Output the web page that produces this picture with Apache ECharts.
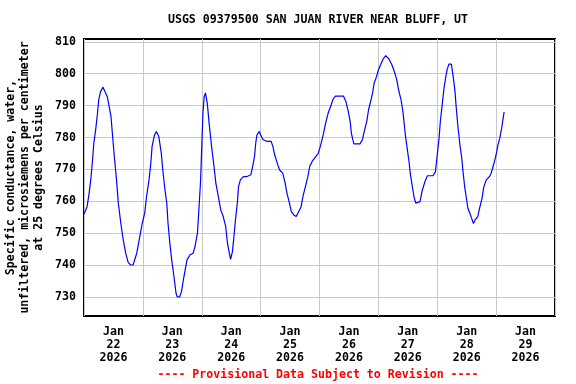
<!DOCTYPE html>
<html>
<head>
<meta charset="utf-8">
<script src="https://cdn.jsdelivr.net/npm/echarts@6/dist/echarts.min.js"></script>
<style>html,body{margin:0;padding:0;background:#fff}#c{width:576px;height:384px}</style>
</head>
<body>
<div id="c"></div>
<script>
// hours since 2026-01-22 00:00 (local station time)
const hours = [0,1.25,2,2.75,3.5,4,4.75,5.5,6,6.75,7.75,8.5,9.5,11,12.25,13.25,14,15,16,17,18,19,20,21.5,22.5,23.75,
24.75,25.5,26.5,27.25,27.75,28.75,29.5,30.5,31.5,32.25,33,33.75,34.25,35,35.75,36.5,37,37.5,38,39,39.75,40.5,41.25,42,43.25,44.5,45.25,46.25,46.75,47.5,
48,48.5,49,49.5,50.25,51,52,53,53.75,54.75,55.75,56.75,57.75,58.5,59.25,59.75,60.5,61,61.75,62.5,63,63.75,65,66.25,68,68.75,69.5,70,70.5,71.5,
72,73,74.5,76.25,77,77.75,79,79.75,81,82,82.75,83.75,84.5,85.5,86.5,87.25,88.5,89.25,90.25,91.25,92,93,94,95.5,
96.5,97.5,98.5,99.5,100.75,101.5,102.5,105.75,106.75,107.75,108.5,109,110,112.5,113.5,114.25,115.25,116,117,117.75,118.25,119.25,
120,121,122,123,124.25,125.5,126.5,127.5,128.25,129.25,130,130.5,131,131.75,132.5,133,133.75,134.5,135.25,136,137,137.75,139,140,142.25,143.25,
144,144.75,145.25,146,146.75,147.5,148,148.75,149.75,150.5,151.25,151.75,152.5,153.25,154,154.5,155.25,156,156.5,157.25,158,158.75,159.5,160.5,161.25,162.25,163,164,165.25,166,166.75,167.5,
168.25,168.75,169.5,170.25,170.75,171.25];
const conductance = [756,758.3,762,766.7,773,778.2,782.4,787.6,791.8,794.4,795.8,795.8,792.8,786.6,775,766.7,759.4,753.1,747.9,743.7,740.8,740,740,743.7,747.9,753.1,
756.3,761.5,766.7,772,777.2,780.8,781.9,780.3,775.1,768.8,763.6,759.4,753.1,746.8,741.6,737.4,734.3,731.2,730,730,731.7,735.3,738.5,741.6,743.2,743.7,745.8,750,756.3,766,
777,788,792.8,794,790.8,784.5,777.2,770.9,765.7,761.5,757.3,755.2,752.1,746.8,743.7,741.8,744.2,747.9,754.2,759.4,764.6,766.7,767.7,767.7,768.3,770.9,774,778.2,780.8,781.9,
780.8,779.3,778.8,778.8,777.2,774.5,771.4,769.8,768.8,765.7,762.5,759.4,756.8,755.7,755.2,756.3,758.3,761.5,764.6,767.7,770.9,772.5,773.5,775,
777.7,780.8,784.5,787.6,790.2,792,793,793,791.3,788.1,785,781.3,778,778,779.3,781.9,785,788.7,791.8,794.4,797,799.1,
801.2,803,804.7,805.7,804.7,802.8,800.7,798.1,794.9,791.8,788.1,784.5,780.8,776.6,772.4,768.8,765.1,761.5,759.4,759,759.9,763,766.2,768,768,769.3,
774.5,779.8,785,790.2,795.5,799.1,801.2,803,803,799.1,794.4,789.2,782.9,777.7,773.5,769.3,764.1,760.4,757.8,756.3,754.7,753,754.2,755.2,757.8,760.9,764.6,766.7,767.7,768.8,770.9,773,
775.6,777.7,779.8,782.9,785.5,788];
const dayLabels = ['22','23','24','25','26','27','28','29'];
const yTicks = [730,740,750,760,770,780,790,800,810];
const xGrid = [0,24,48,72,96,120,144,168,192];
const xLabelPos = [12,36,60,84,108,132,156,180];

const FONT = '"DejaVu Sans Mono", monospace';
const chart = echarts.init(document.getElementById('c'), null, {renderer:'canvas'});
chart.setOption({
  animation:false,
  backgroundColor:'#fff',
  grid:{left:84,right:21,top:39,bottom:68,containLabel:false,outerBoundsMode:'none',show:true,borderColor:'#000',borderWidth:2,backgroundColor:'transparent'},
  graphic:[
    {type:'text',x:318,y:20,style:{text:'USGS 09379500 SAN JUAN RIVER NEAR BLUFF, UT',font:'bold 11.6px '+FONT,fill:'#000',textAlign:'center',textVerticalAlign:'middle'}},
    {type:'text',x:318,y:375,style:{text:'---- Provisional Data Subject to Revision ----',font:'bold 11.6px '+FONT,fill:'#ff0000',textAlign:'center',textVerticalAlign:'middle'}}
  ],
  xAxis:{
    type:'value',min:0,max:192,
    axisLine:{show:false},
    axisTick:{show:false,customValues:xGrid},
    splitLine:{show:true,lineStyle:{color:'#c8c8c8',width:1}},
    axisLabel:{customValues:xLabelPos,margin:9,color:'#000',fontFamily:FONT,fontWeight:'bold',fontSize:11.6,lineHeight:13,
      formatter:function(v){const i=Math.round((v-12)/24);return 'Jan\n'+dayLabels[i]+'\n2026';}}
  },
  yAxis:{
    type:'value',min:724,max:810.9,
    axisLine:{show:false},
    axisTick:{show:false,customValues:yTicks},
    splitLine:{show:true,lineStyle:{color:'#c8c8c8',width:1}},
    axisLabel:{customValues:yTicks,margin:8,color:'#000',fontFamily:FONT,fontWeight:'bold',fontSize:11.6},
    name:'Specific conductance, water,\nunfiltered, microsiemens per centimeter\nat 25 degrees Celsius',
    nameLocation:'middle',nameRotate:90,nameGap:38,nameMoveOverlap:false,
    nameTextStyle:{color:'#000',fontFamily:FONT,fontWeight:'bold',fontSize:11.6,lineHeight:14,align:'center'}
  },
  series:[{
    type:'line',
    data:hours.map((h,i)=>[h,conductance[i]]),
    showSymbol:false,symbol:'none',
    lineStyle:{color:'#0000ff',width:1.2},
    itemStyle:{color:'#0000ff'},
    z:3
  }]
});
</script>
</body>
</html>
